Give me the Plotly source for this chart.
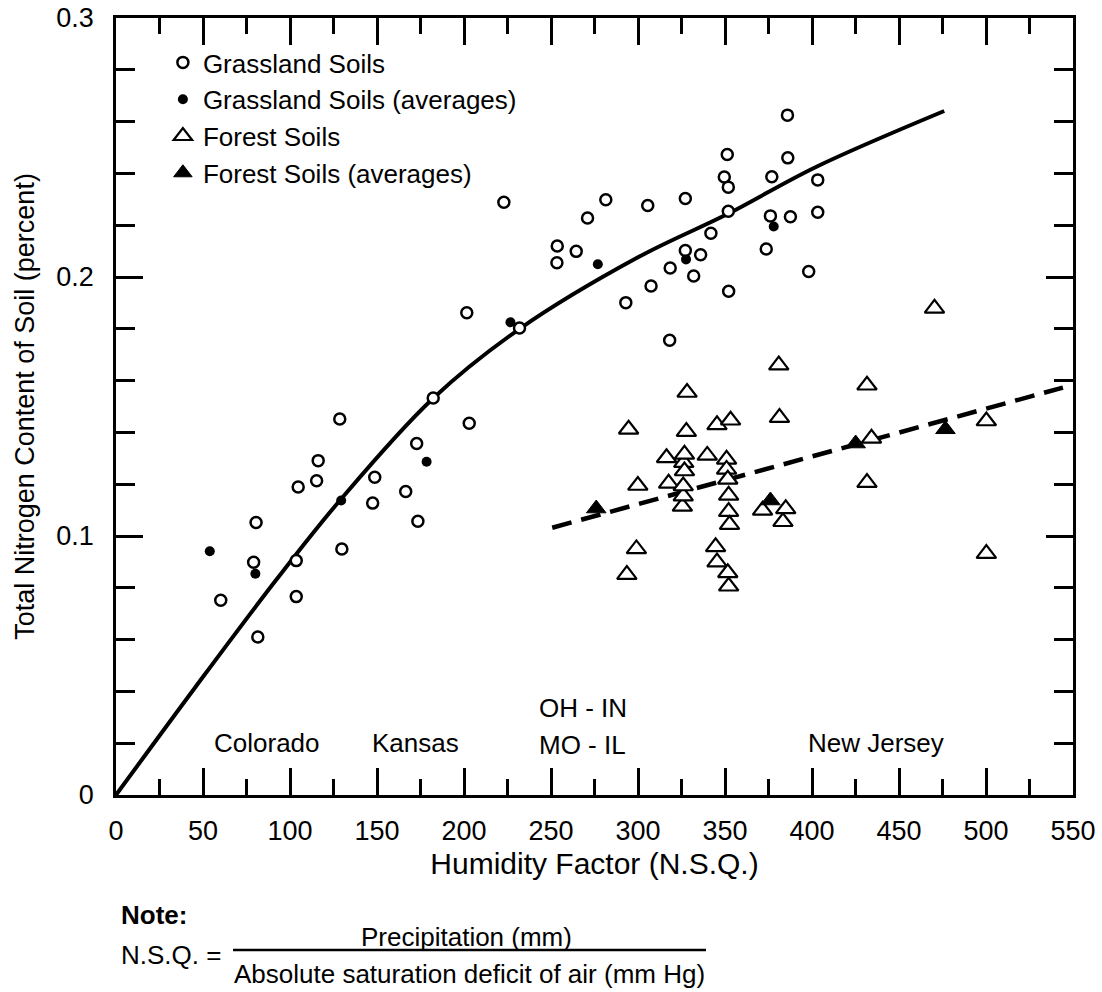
import plotly.graph_objects as go

# ---------------- data ----------------
grass_x = [60.2, 81.5, 79.1, 80.5, 103.6, 103.6, 104.7, 115.3, 116.2, 128.6,
           129.8, 147.5, 148.7, 166.5, 172.8, 173.5, 182.3, 201.6, 203.0, 222.9,
           231.9, 253.4, 253.6, 264.5, 271.0, 281.5, 293.0, 305.6, 307.5, 318.2,
           318.5, 327.2, 327.2, 332.0, 336.0, 341.9, 349.6, 351.3, 351.9, 351.9,
           352.1, 373.7, 376.1, 376.9, 385.9, 386.1, 387.6, 398.1, 403.3, 403.3]
grass_y = [0.0752, 0.0610, 0.0899, 0.1052, 0.0766, 0.0905, 0.1189, 0.1213, 0.1291, 0.1452,
           0.0950, 0.1127, 0.1227, 0.1172, 0.1357, 0.1057, 0.1533, 0.1862, 0.1435, 0.2289,
           0.1803, 0.2055, 0.2120, 0.2099, 0.2228, 0.2298, 0.1901, 0.2276, 0.1965, 0.1756,
           0.2035, 0.2303, 0.2102, 0.2004, 0.2086, 0.2169, 0.2386, 0.2473, 0.2347, 0.2254,
           0.1945, 0.2108, 0.2236, 0.2387, 0.2625, 0.2460, 0.2233, 0.2021, 0.2375, 0.2250]

grass_avg_x = [53.9, 80.1, 129.4, 178.5, 226.7, 276.9, 327.6, 378.0]
grass_avg_y = [0.0941, 0.0854, 0.1137, 0.1287, 0.1825, 0.2049, 0.2068, 0.2195]

forest_x = [293.6, 294.6, 299.1, 299.9, 316.4, 317.6, 325.5, 326.0, 326.0, 326.3,
            326.7, 326.7, 327.8, 328.2, 339.8, 344.6, 345.4, 345.4, 350.9, 350.9,
            351.6, 351.6, 352.1, 352.1, 352.1, 352.6, 353.2, 371.6, 380.9, 381.3,
            383.3, 384.9, 431.6, 431.6, 434.2, 470.4, 500.2, 500.2]
forest_y = [0.0851, 0.1412, 0.0950, 0.1195, 0.1302, 0.1203, 0.1114, 0.1154, 0.1193, 0.1283,
            0.1251, 0.1315, 0.1403, 0.1554, 0.1311, 0.0958, 0.0899, 0.1429, 0.1296, 0.1257,
            0.1219, 0.0858, 0.1157, 0.1094, 0.0806, 0.1044, 0.1447, 0.1099, 0.1660, 0.1457,
            0.1055, 0.1105, 0.1582, 0.1206, 0.1377, 0.1879, 0.1444, 0.0932]

forest_avg_x = [276.0, 376.1, 425.1, 476.7]
forest_avg_y = [0.1106, 0.1137, 0.1357, 0.1412]

# fitted curves
grass_fit_x = [0, 46, 92, 129, 182, 232, 300, 352, 402, 476]
grass_fit_y = [0, 0.042, 0.083, 0.114, 0.153, 0.180, 0.2076, 0.2245, 0.2424, 0.2641]

forest_fit_x = [250.7, 544.2]
forest_fit_y = [0.1032, 0.1573]

x_ticks = [0, 50, 100, 150, 200, 250, 300, 350, 400, 450, 500, 550]
y_ticks = [0, 0.1, 0.2, 0.3]
y_tick_labels = ["0", "0.1", "0.2", "0.3"]

region_labels = ["Colorado", "Kansas", "OH - IN", "MO - IL", "New Jersey"]
region_x = [86.8, 172.0, 241.9, 241.9, 436.8]
region_y = [0.0201, 0.0201, 0.0337, 0.0193, 0.0201]
region_anchor = ["center", "center", "left", "left", "center"]

FONT = "Liberation Sans, Arial, Helvetica, sans-serif"

fig = go.Figure()

fig.add_trace(go.Scatter(
    x=grass_fit_x, y=grass_fit_y, mode="lines", showlegend=False,
    line=dict(color="black", width=4, shape="spline", smoothing=1.0),
    hoverinfo="skip"))
fig.add_trace(go.Scatter(
    x=forest_fit_x, y=forest_fit_y, mode="lines", showlegend=False,
    line=dict(color="black", width=4.5, dash="20px,10px"),
    hoverinfo="skip"))

fig.add_trace(go.Scatter(
    x=grass_x, y=grass_y, mode="markers", name="Grassland Soils",
    legendgroup="a",
    marker=dict(symbol="circle", size=11, color="white",
                line=dict(color="black", width=2.5))))
fig.add_trace(go.Scatter(
    x=grass_avg_x, y=grass_avg_y, mode="markers", name="Grassland Soils (averages)",
    legendgroup="b",
    marker=dict(symbol="circle", size=10, color="black",
                line=dict(color="black", width=0))))
fig.add_trace(go.Scatter(
    x=forest_x, y=forest_y, mode="markers", name="Forest Soils",
    legendgroup="c",
    marker=dict(symbol="triangle-up", size=17, color="white",
                line=dict(color="black", width=2.2))))
fig.add_trace(go.Scatter(
    x=forest_avg_x, y=forest_avg_y, mode="markers", name="Forest Soils (averages)",
    legendgroup="d",
    marker=dict(symbol="triangle-up", size=17, color="black",
                line=dict(color="black", width=1))))

for t, xx, yy, anc in zip(region_labels, region_x, region_y, region_anchor):
    fig.add_annotation(x=xx, y=yy, xref="x", yref="y", text=t, showarrow=False,
                       xanchor=anc, yanchor="middle",
                       font=dict(family=FONT, size=26, color="black"))

# note below the chart
fig.add_annotation(x=0.003, y=-0.1544, xref="paper", yref="paper", text="<b>Note:</b>",
                   showarrow=False, xanchor="left", yanchor="middle",
                   font=dict(family=FONT, size=26, color="black"))
fig.add_annotation(x=0.003, y=-0.2059, xref="paper", yref="paper", text="N.S.Q. =",
                   showarrow=False, xanchor="left", yanchor="middle",
                   font=dict(family=FONT, size=26, color="black"))
fig.add_annotation(x=0.366, y=-0.1832, xref="paper", yref="paper", text="Precipitation (mm)",
                   showarrow=False, xanchor="center", yanchor="middle",
                   font=dict(family=FONT, size=26, color="black"))
fig.add_annotation(x=0.3694, y=-0.2310, xref="paper", yref="paper",
                   text="Absolute saturation deficit of air (mm Hg)",
                   showarrow=False, xanchor="center", yanchor="middle",
                   font=dict(family=FONT, size=26, color="black"))
fig.add_shape(type="line", xref="paper", yref="paper", x0=0.1223, x1=0.6165,
              y0=-0.1995, y1=-0.1995, line=dict(color="black", width=2.5))

axis_common = dict(
    showgrid=False, zeroline=False, showline=True, linecolor="black", linewidth=2.5,
    mirror="allticks", ticks="inside", tickcolor="black", tickwidth=2.5,
    tickfont=dict(family=FONT, size=27, color="black"),
    ticklabeloverflow="allow",
)

fig.update_xaxes(
    **axis_common, range=[0, 550], tickvals=x_ticks, ticklen=27,
    ticklabelstandoff=10,
    minor=dict(dtick=25, tick0=0, ticks="inside", ticklen=16, tickwidth=2.5, tickcolor="black"),
    title=dict(text="Humidity Factor (N.S.Q.)", font=dict(family=FONT, size=30, color="black"),
               standoff=8))
fig.update_yaxes(
    **axis_common, range=[0, 0.3], tickvals=y_ticks, ticktext=y_tick_labels, ticklen=27,
    ticklabelstandoff=14,
    minor=dict(dtick=0.02, tick0=0, ticks="inside", ticklen=19, tickwidth=2.5, tickcolor="black"),
    title=dict(text="Total Nitrogen Content of Soil (percent)",
               font=dict(family=FONT, size=27, color="black"), standoff=14))

fig.update_layout(
    width=1102, height=992,
    margin=dict(l=116, r=29, t=18, b=197, autoexpand=False),
    paper_bgcolor="white", plot_bgcolor="white",
    legend=dict(x=0.049, y=0.973, xanchor="left", yanchor="top",
                bgcolor="rgba(0,0,0,0)", borderwidth=0, tracegroupgap=6,
                font=dict(family=FONT, size=26, color="black"),
                traceorder="normal"),
    font=dict(family=FONT, color="black"),
)

# remove the default page margin so the figure fills the window exactly
fig.write_html("out.html", config={"displayModeBar": False},
               post_script="document.body.style.margin='0';")
